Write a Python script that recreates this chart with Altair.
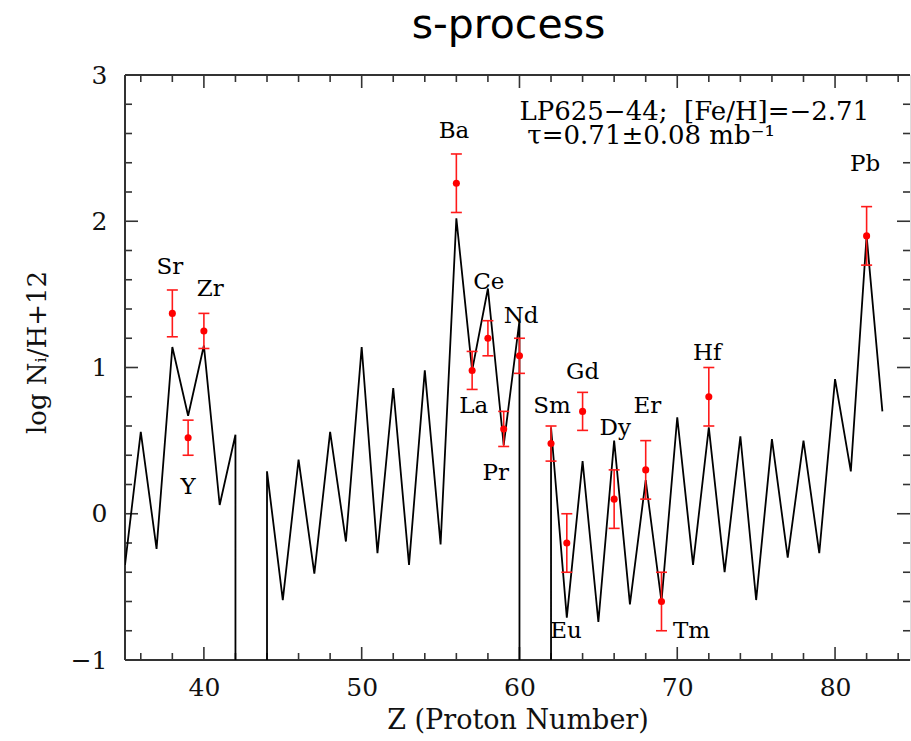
import altair as alt
import pandas as pd

# ---------------- data ----------------
# s-process model curve (log N/H + 12) for each proton number; None = no stable isotope (Tc, Pm)
model_Z = list(range(35, 84))
model_v = [-0.35, 0.56, -0.24, 1.14, 0.67, 1.15, 0.06, 0.54, None, 0.29,
           -0.59, 0.37, -0.41, 0.56, -0.19, 1.14, -0.27, 0.86, -0.35, 0.98,
           -0.21, 2.02, 0.98, 1.54, 0.47, 1.32, None, 0.59, -0.71, 0.36,
           -0.74, 0.50, -0.62, 0.23, -0.60, 0.66, -0.35, 0.59, -0.40, 0.53,
           -0.59, 0.51, -0.30, 0.50, -0.27, 0.92, 0.29, 1.90, 0.70]

# observed abundances of LP625-44
obs_el = ["Sr", "Y", "Zr", "Ba", "La", "Ce", "Pr", "Nd", "Sm", "Eu", "Gd", "Dy",
          "Er", "Tm", "Hf", "Pb"]
obs_Z = [38, 39, 40, 56, 57, 58, 59, 60, 62, 63, 64, 66, 68, 69, 72, 82]
obs_v = [1.37, 0.52, 1.25, 2.26, 0.98, 1.20, 0.58, 1.08, 0.48, -0.20, 0.70, 0.10,
         0.30, -0.60, 0.80, 1.90]
obs_err = [0.16, 0.12, 0.12, 0.20, 0.13, 0.12, 0.12, 0.12, 0.12, 0.20, 0.13, 0.20,
           0.20, 0.20, 0.20, 0.20]

# label anchor points (data units)
lab_Z = [37.85, 39.0, 40.4, 55.85, 57.1, 58.06, 58.5, 60.1, 62.07, 62.95, 64.0, 66.07,
         68.1, 70.9, 71.9, 81.9]
lab_v = [1.69, 0.185, 1.54, 2.615, 0.737, 1.586, 0.279, 1.35, 0.737, -0.80, 0.966, 0.584,
         0.737, -0.80, 1.10, 2.394]

note_lines = ["LP625\u221244;\u00a0\u00a0[Fe/H]=\u22122.71", "\u03c4=0.71\u00b10.08 mb\u207b\u00b9"]
note_Z = [60.0, 60.5]
note_v = [2.693, 2.525]

x_labels = [40, 50, 60, 70, 80]
y_labels = [-1, 0, 1, 2, 3]
x_minor = [z for z in range(36, 85, 2) if z % 10 != 0]
y_minor = [-0.8, -0.6, -0.4, -0.2, 0.2, 0.4, 0.6, 0.8, 1.2, 1.4, 1.6, 1.8,
           2.2, 2.4, 2.6, 2.8]
y_major = [0, 1, 2]

# ---------------- layout ----------------
W, H = 785, 585
X_DOM = [35, 84.75]
Y_DOM = [-1, 3]
SERIF = "DejaVu Serif"
FRAME = "#333333"

# model line split into segments that plunge to the floor at Tc and Pm
rows = []
seg, order, after_gap = 0, 0, False
for i, (z, v) in enumerate(zip(model_Z, model_v)):
    if v is None:
        rows.append(dict(Z=model_Z[i - 1], v=Y_DOM[0], seg=seg, o=order)); order += 1
        seg += 1
        after_gap = True
        continue
    if after_gap:
        rows.append(dict(Z=z, v=Y_DOM[0], seg=seg, o=order)); order += 1
        after_gap = False
    rows.append(dict(Z=z, v=v, seg=seg, o=order)); order += 1
line_df = pd.DataFrame(rows)

obs_df = pd.DataFrame(dict(el=obs_el, Z=obs_Z, v=obs_v, err=obs_err))
obs_df["lo"] = obs_df["v"] - obs_df["err"]
obs_df["hi"] = obs_df["v"] + obs_df["err"]
caps_df = pd.concat([obs_df[["Z", "lo"]].rename(columns={"lo": "v"}),
                     obs_df[["Z", "hi"]].rename(columns={"hi": "v"})])
lab_df = pd.DataFrame(dict(el=obs_el, Z=lab_Z, v=lab_v))
note_df = pd.DataFrame(dict(t=note_lines, Z=note_Z, v=note_v))

xs = alt.Scale(domain=X_DOM, nice=False, zero=False)
ys = alt.Scale(domain=Y_DOM, nice=False, zero=False)
xaxis = alt.Axis(values=x_labels, ticks=False, domain=False, grid=False, format="d",
                 labelFont=SERIF, labelFontSize=25, labelColor="#111", labelPadding=15,
                 title="Z (Proton Number)", titleFont=SERIF, titleFontSize=27,
                 titleFontWeight="normal", titleColor="#111", titleY=60,
                 titleBaseline="middle")
yaxis = alt.Axis(values=y_labels, ticks=False, domain=False, grid=False, format="d",
                 labelFont=SERIF, labelFontSize=25, labelColor="#111", labelPadding=18,
                 title="log N\u1d62/H+12", titleFont=SERIF, titleFontSize=26,
                 titleFontWeight="normal", titleColor="#111", titleX=-88, titleY=277,
                 titleBaseline="middle")


def X(f):
    return alt.X(f"{f}:Q", scale=xs, axis=xaxis)


def Y(f):
    return alt.Y(f"{f}:Q", scale=ys, axis=yaxis)


one = pd.DataFrame({"k": [0]})
layers = []
# frame (left, top, bottom)
layers.append(alt.Chart(one).mark_rule(color=FRAME, strokeWidth=2).encode(
    x=alt.value(0), y=alt.value(0), y2=alt.value(H)))
layers.append(alt.Chart(one).mark_rule(color=FRAME, strokeWidth=2).encode(
    x=alt.value(0), x2=alt.value(W), y=alt.value(0)))
layers.append(alt.Chart(one).mark_rule(color=FRAME, strokeWidth=2).encode(
    x=alt.value(0), x2=alt.value(W), y=alt.value(H)))

# inward ticks
for vals, ln in ((x_labels, 13), (x_minor, 7)):
    d = pd.DataFrame({"Z": vals})
    layers.append(alt.Chart(d).mark_rule(color=FRAME, strokeWidth=1.6).encode(
        x=X("Z"), y=alt.value(H), y2=alt.value(H - ln)))
    layers.append(alt.Chart(d).mark_rule(color=FRAME, strokeWidth=1.6).encode(
        x=X("Z"), y=alt.value(0), y2=alt.value(ln)))
for vals, ln in ((y_major, 13), (y_minor, 7)):
    d = pd.DataFrame({"v": vals})
    layers.append(alt.Chart(d).mark_rule(color=FRAME, strokeWidth=1.6).encode(
        y=Y("v"), x=alt.value(0), x2=alt.value(ln)))
    layers.append(alt.Chart(d).mark_rule(color=FRAME, strokeWidth=1.6).encode(
        y=Y("v"), x=alt.value(W), x2=alt.value(W - ln)))

# model curve
layers.append(alt.Chart(line_df).mark_line(color="black", strokeWidth=1.8, clip=True).encode(
    x=X("Z"), y=Y("v"), detail="seg:N", order="o:Q"))

# error bars, caps, points
layers.append(alt.Chart(obs_df).mark_rule(color="#ff1a1a", strokeWidth=1.6).encode(
    x=X("Z"), y=Y("lo"), y2="hi:Q"))
layers.append(alt.Chart(caps_df).mark_tick(color="#ff1a1a", orient="horizontal", size=11,
                                           thickness=1.6, opacity=1).encode(
    x=X("Z"), y=Y("v")))
layers.append(alt.Chart(obs_df).mark_circle(color="#ff0000", size=50, opacity=1).encode(
    x=X("Z"), y=Y("v")))

# element labels
layers.append(alt.Chart(lab_df).mark_text(font=SERIF, fontSize=23, color="black",
                                          align="center", baseline="middle").encode(
    x=X("Z"), y=Y("v"), text="el:N"))
# star annotation
layers.append(alt.Chart(note_df).mark_text(font=SERIF, fontSize=26, color="black",
                                           align="left", baseline="alphabetic").encode(
    x=X("Z"), y=Y("v"), text="t:N"))

chart = alt.layer(*layers).properties(
    width=W, height=H,
    padding={"left": 125, "top": 75, "right": 1, "bottom": 81},
    autosize=alt.AutoSizeParams(type="none"),
    title=alt.TitleParams("s-process", font="DejaVu Sans", fontSize=41,
                          fontWeight="normal", color="black", frame="group",
                          anchor="middle", dx=-9, dy=43, offset=27, baseline="alphabetic"),
).configure_view(stroke=None).configure(background="white")

chart.save("out.html", embed_options={"renderer": "svg", "actions": False})
